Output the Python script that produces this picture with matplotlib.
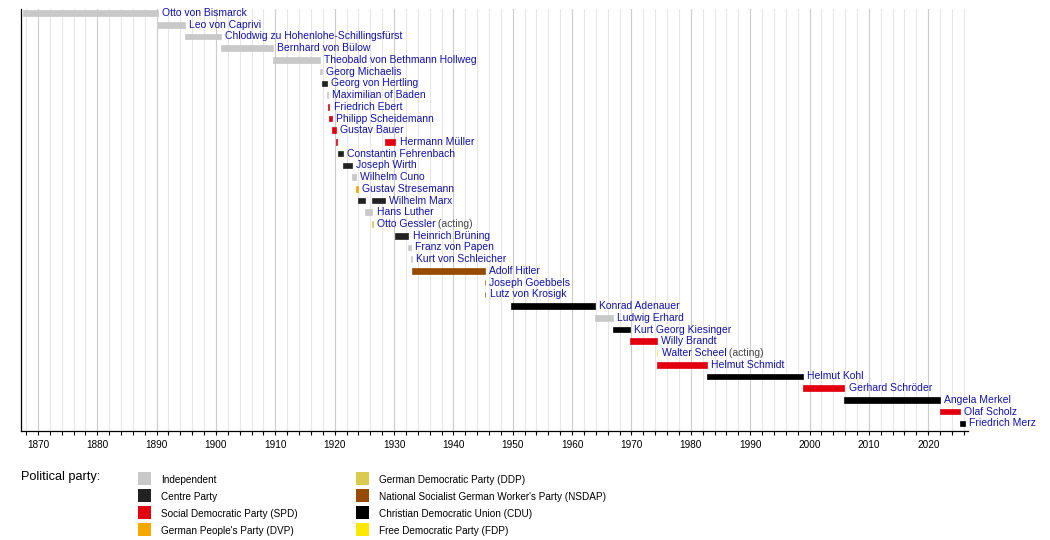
import matplotlib
matplotlib.use('Agg')
import matplotlib.pyplot as plt
from matplotlib.patches import Rectangle
from matplotlib.ticker import MultipleLocator

plt.rcParams['font.family'] = ['Liberation Sans', 'DejaVu Sans']

# party name -> colour
parties = ['Independent', 'Centre Party', 'Social Democratic Party (SPD)',
           "German People's Party (DVP)", 'German Democratic Party (DDP)',
           "National Socialist German Worker's Party (NSDAP)",
           'Christian Democratic Union (CDU)', 'Free Democratic Party (FDP)']
party_colors = ['#c8c8c8', '#222222', '#e2000f', '#f7a800',
                '#dbca50', '#964b00', '#000000', '#ffe800']
party_keys = ['IND', 'Z', 'SPD', 'DVP', 'DDP', 'NSDAP', 'CDU', 'FDP']

# one entry per term in office (fractional years)
term_name = ['Otto von Bismarck', 'Leo von Caprivi',
             'Chlodwig zu Hohenlohe-Schillingsfürst', 'Bernhard von Bülow',
             'Theobald von Bethmann Hollweg', 'Georg Michaelis',
             'Georg von Hertling', 'Maximilian of Baden', 'Friedrich Ebert',
             'Philipp Scheidemann', 'Gustav Bauer', 'Hermann Müller',
             'Hermann Müller', 'Constantin Fehrenbach', 'Joseph Wirth',
             'Wilhelm Cuno', 'Gustav Stresemann', 'Wilhelm Marx',
             'Wilhelm Marx', 'Hans Luther', 'Otto Gessler',
             'Heinrich Brüning', 'Franz von Papen', 'Kurt von Schleicher',
             'Adolf Hitler', 'Joseph Goebbels', 'Lutz von Krosigk',
             'Konrad Adenauer', 'Ludwig Erhard', 'Kurt Georg Kiesinger',
             'Willy Brandt', 'Walter Scheel', 'Helmut Schmidt',
             'Helmut Kohl', 'Gerhard Schröder', 'Angela Merkel',
             'Olaf Scholz', 'Friedrich Merz']
term_start = [1867.50, 1890.21, 1894.82, 1900.79, 1909.53, 1917.53,
              1917.83, 1918.75, 1918.86, 1919.12, 1919.47, 1920.24,
              1928.49, 1920.48, 1921.36, 1922.89, 1923.62, 1923.91,
              1926.37, 1925.04, 1926.36, 1930.24, 1932.42, 1932.92,
              1933.08, 1945.33, 1945.34, 1949.71, 1963.79, 1966.92,
              1969.80, 1974.35, 1974.37, 1982.75, 1998.82, 2005.89,
              2021.94, 2025.35]
term_end = [1890.21, 1894.82, 1900.79, 1909.53, 1917.53, 1917.83,
            1918.75, 1918.86, 1919.12, 1919.47, 1920.23, 1920.47,
            1930.24, 1921.34, 1922.87, 1923.61, 1923.89, 1925.04,
            1928.45, 1926.36, 1926.38, 1932.41, 1932.88, 1933.08,
            1945.33, 1945.34, 1945.39, 1963.79, 1966.92, 1969.80,
            1974.35, 1974.37, 1982.75, 1998.82, 2005.89, 2021.94,
            2025.35, 2026.15]
term_party = ['IND', 'IND', 'IND', 'IND', 'IND', 'IND', 'Z', 'IND', 'SPD',
              'SPD', 'SPD', 'SPD', 'SPD', 'Z', 'Z', 'IND', 'DVP', 'Z', 'Z',
              'IND', 'DDP', 'Z', 'IND', 'IND', 'NSDAP', 'NSDAP', 'NSDAP',
              'CDU', 'IND', 'CDU', 'SPD', 'FDP', 'SPD', 'CDU', 'SPD', 'CDU',
              'SPD', 'CDU']
acting = ['Otto Gessler', 'Walter Scheel']

rows = []
for n in term_name:
    if n not in rows:
        rows.append(n)

fig = plt.figure(figsize=(10.5, 5.4), dpi=100)
ax = fig.add_axes([20.7 / 1050, 1 - 430.5 / 540, 947.6 / 1050, 421.5 / 540])

# background grid: light every 2 years, a bit darker every decade
for yr in range(1868, 2027, 2):
    ax.axvline(yr, color='#cccccc' if yr % 10 == 0 else '#e6e6e6',
               lw=0.8, zorder=1)

color_of = dict(zip(party_keys, party_colors))
last_end = {}
for n, s, e, p in zip(term_name, term_start, term_end, term_party):
    r = rows.index(n)
    ax.barh(r, e - s, left=s, height=0.48, color=color_of[p],
            edgecolor=color_of[p], linewidth=0.5, zorder=3)
    last_end[n] = max(last_end.get(n, 0), e)

for r, n in enumerate(rows):
    t = ax.annotate(n, xy=(last_end[n], r), xytext=(3, 0),
                    textcoords='offset points', va='center', ha='left',
                    fontsize=7.5, color='#1212a8', zorder=4)
    if n in acting:
        ax.annotate(' (acting)', xy=(1, 0), xycoords=t, va='bottom',
                    ha='left', fontsize=7.5, color='#444444')

ax.set_xlim(1867.1, 2026.75)
ax.set_ylim(35.61, -0.34)
ax.xaxis.set_major_locator(MultipleLocator(10))
ax.xaxis.set_minor_locator(MultipleLocator(2))
ax.set_yticks([])
ax.tick_params(axis='x', which='both', length=3, width=0.8, direction='out',
               color='black')
ax.tick_params(axis='x', which='major', labelsize=7.2, pad=4)
for side in ['top', 'right']:
    ax.spines[side].set_visible(False)
for side in ['left', 'bottom']:
    ax.spines[side].set_linewidth(0.9)
    ax.spines[side].set_zorder(5)

# legend block drawn in pixel coordinates below the plot
lg = fig.add_axes([0, 0, 1, 1], zorder=-1)
lg.set_xlim(0, 1050)
lg.set_ylim(540, 0)
lg.axis('off')
lg.text(20.7, 476.7, 'Political party:', fontsize=9.2, va='center', ha='left')
for i, (lab, col) in enumerate(zip(parties, party_colors)):
    cx = [137.7, 356.0][i // 4]
    cy = 478.3 + (i % 4) * 17.1
    lg.add_patch(Rectangle((cx, cy - 6.3), 13, 12.6, color=col, lw=0))
    lg.text(cx + 23, cy + 1.5, lab, fontsize=7.2, va='center', ha='left')

fig.savefig('out.png', dpi=100)
